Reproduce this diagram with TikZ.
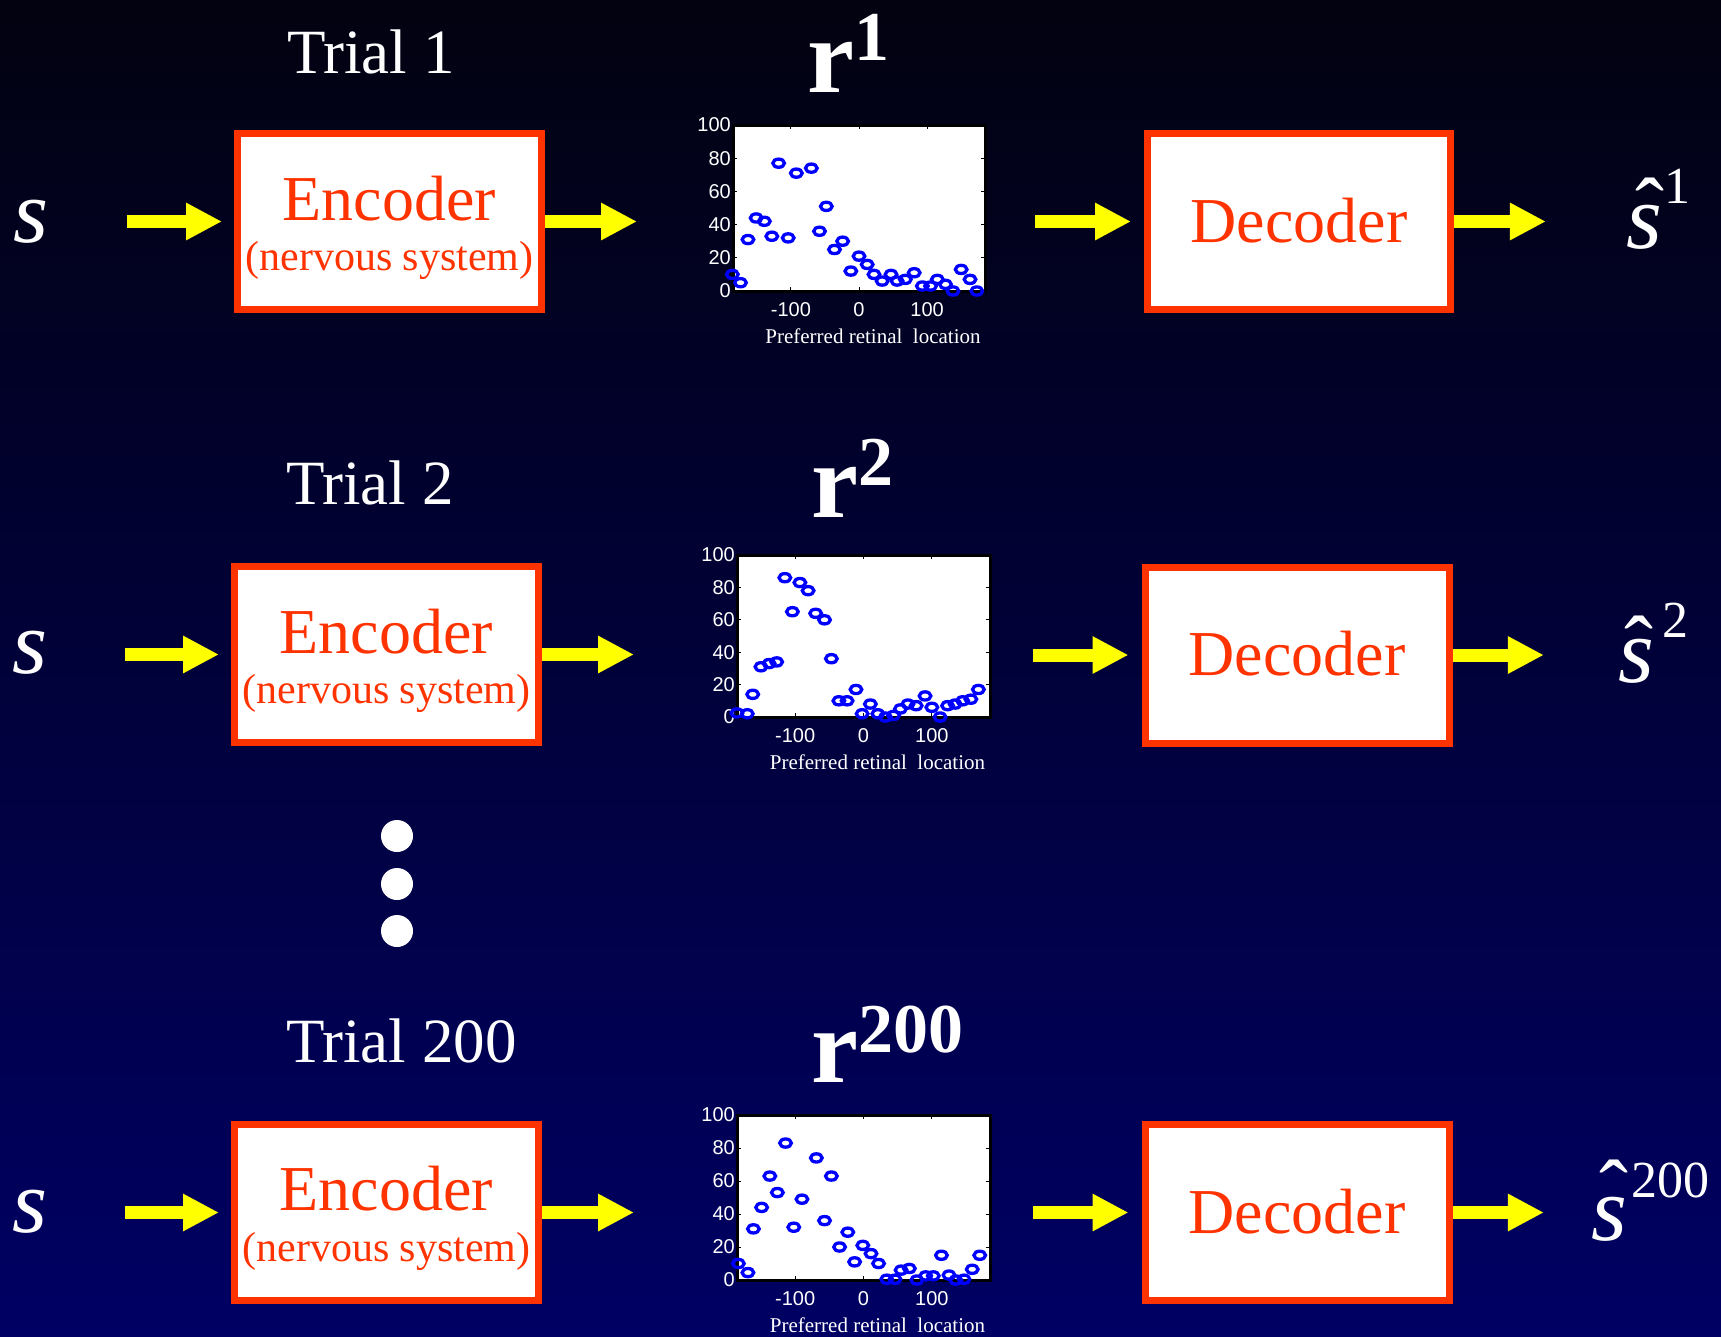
\documentclass[tikz,border=0pt]{standalone}
\usepackage{fontspec}
\setmainfont{Liberation Serif}
\newfontfamily\helv{Liberation Sans}
\usetikzlibrary{arrows.meta}
\definecolor{bgtop}{RGB}{2,2,16}
\definecolor{bgbot}{RGB}{0,0,100}
\definecolor{redor}{RGB}{255,51,0}
\definecolor{ylw}{RGB}{255,255,0}
\definecolor{mkblue}{RGB}{0,0,255}
\newcommand{\fsz}[1]{\fontsize{#1}{#1}\selectfont}
\tikzset{
  box/.style={draw=redor, fill=white, line width=7pt, minimum height=176pt, inner sep=0pt},
  enctxt/.style={anchor=base, font=\fsz{64}, text=redor, inner sep=0pt},
  nstxt/.style={anchor=base, font=\fsz{42}, text=redor, inner sep=0pt},
  trial/.style={anchor=base west, font=\fsz{63}, text=white, inner sep=0pt},
  rtit/.style={anchor=base west, font=\fsz{106}\bfseries, text=white, inner sep=0pt},
  ins/.style={anchor=base, font=\fsz{90}\itshape, text=white, inner sep=0pt},
  outs/.style={anchor=base, font=\fsz{92}\itshape, text=white, inner sep=0pt},
  hatn/.style={anchor=base, font=\fsz{87}, text=white, inner sep=0pt},
  osup/.style={anchor=base west, font=\fsz{52}, text=white, inner sep=0pt},
  yarrow/.style={draw=ylw, line width=13pt, -{Triangle[length=36pt, width=35pt]}},
  plotframe/.style={draw=black, fill=white, line width=3pt, outer sep=0pt, inner sep=0pt},
  tick/.style={draw=black, line width=1pt},
  ylab/.style={anchor=east, font=\helv\fsz{20}, text=white, inner sep=0pt},
  xlab/.style={anchor=center, font=\helv\fsz{20}, text=white, inner sep=0pt},
  xtitle/.style={anchor=base, font=\fsz{21}, text=white, inner sep=0pt},
  mk/.style={draw=mkblue, line width=3.3pt},
}
\newcommand{\plotpanel}[6]{%
  \node[plotframe, minimum width={(#4-#2)*1pt}, minimum height={(#5-#3)*1pt}] (#1) at ({(#2+#4)/2},{(#3+#5)/2}) {};
  \foreach \yv in {0,20,...,100} {
    \draw[tick] (#2,{#5-\yv/100*(#5-#3)}) -- ++(4,0);
    \draw[tick] (#4,{#5-\yv/100*(#5-#3)}) -- ++(-4,0);
    \node[ylab] (#1-y\yv) at ({#2-2},{#5-\yv/100*(#5-#3)}) {\yv};
  }
  \foreach \xv in {-100,0,100} {
    \draw[tick] ({#2+(\xv+185)/370*(#4-#2)},#5) -- ++(0,-4);
    \draw[tick] ({#2+(\xv+185)/370*(#4-#2)},#3) -- ++(0,4);
    \node[xlab] (#1-x\xv) at ({#2+(\xv+185)/370*(#4-#2)},{#5+19}) {\xv};
  }
  \node[xtitle] (#1-t) at ({#2/2+#4/2+14},{#5+52}) {Preferred retinal\ \ location};
  \foreach \px/\py in {#6} {
    \draw[mk] ({#2+(\px+185)/370*(#4-#2)},{#5-\py/100*(#5-#3)}) ellipse [x radius=5.8, y radius=4.1];
  }
}
\begin{document}
\begin{tikzpicture}[x=1pt, y=-1pt]
\useasboundingbox (0,0) rectangle (1721,1336);
\shade[top color=bgtop, bottom color=bgbot] (0,0) rectangle (1721,1336);

% ---------- Row 1 ----------
\node[trial] (t1) at (287,73) {Trial 1};
\node[rtit] (r1) at (807,92) {r\raisebox{32pt}{\fsz{70}1}};
\node[ins] (s1) at (31,242) {s};
\node[box, minimum width=304pt] (enc1) at (389.5,221.5) {};
\node[enctxt] (enc1a) at ([yshift=1.5pt]enc1.center) {Encoder};
\node[nstxt] (enc1b) at ([yshift=-48.5pt]enc1.center) {(nervous system)};
\plotpanel{p1}{733}{125}{985}{291}{-186/10, -174/5, -163/31, -151/44, -139/42, -128/33, -118/77, -104/32, -92/71, -70/74, -58/36, -48/51, -36/25, -24/30, -12/12, 0/21, 12/16, 22/10, 34/6, 47/10, 56/6, 68/7, 81/11, 93/3, 105/3, 115/7, 127/4, 138/0, 150/13, 163/7, 173/0}
\node[box, minimum width=303pt] (dec1) at (1299,221.5) {};
\node[enctxt] (dec1a) at ([yshift=-21pt]dec1.center) {Decoder};
\node[outs] (o1) at (1644,248) {s};
\node[hatn] (o1h) at (1650,238) {ˆ};
\node[osup] (o1s) at (1664,203) {1};
\draw[yarrow, shorten <=78pt, shorten >=12pt] (s1.east |- enc1.west) -- (enc1.west);
\draw[yarrow, shorten >=96pt] (enc1.east) -- (enc1.east -| p1.west);
\draw[yarrow, shorten <=50pt, shorten >=13pt] (p1.east |- dec1.west) -- (dec1.west);
\draw[yarrow, shorten >=80pt] (dec1.east) -- (dec1.east -| o1.west);

% ---------- Row 2 ----------
\node[trial] (t2) at (286,504) {Trial 2};
\node[rtit] (r2) at (811,517) {r\raisebox{32pt}{\fsz{70}2}};
\node[ins] (s2) at (30,673) {s};
\node[box, minimum width=304pt] (enc2) at (386.5,654.5) {};
\node[enctxt] (enc2a) at ([yshift=1.5pt]enc2.center) {Encoder};
\node[nstxt] (enc2b) at ([yshift=-48.5pt]enc2.center) {(nervous system)};
\plotpanel{p2}{737}{555}{990}{717}{-185/2.5, -170/2, -162/14, -150/31, -138/33, -127/34, -115/86, -104/65, -93/83, -81/78, -70/64, -57/60, -47/36, -36/10, -24/10, -11/17, -2/2, 10/8, 21/2, 32/0, 44/1, 54/5, 65/8, 77/7, 90/13, 100/6, 112/0, 123/7, 134/8, 145/10, 157/11, 168/17}
\node[box, minimum width=304pt] (dec2) at (1297,655) {};
\node[enctxt] (dec2a) at ([yshift=-20pt]dec2.center) {Decoder};
\node[outs] (o2) at (1636,682) {s};
\node[hatn] (o2h) at (1639,676) {ˆ};
\node[osup] (o2s) at (1662,637) {2};
\draw[yarrow, shorten <=77pt, shorten >=12pt] (s2.east |- enc2.west) -- (enc2.west);
\draw[yarrow, shorten >=103pt] (enc2.east) -- (enc2.east -| p2.west);
\draw[yarrow, shorten <=43pt, shorten >=13pt] (p2.east |- dec2.west) -- (dec2.west);
\draw[yarrow, shorten >=74pt] (dec2.east) -- (dec2.east -| o2.west);

% ---------- dots ----------
\fill[white] (397,836) circle (16);
\fill[white] (397,884) circle (16);
\fill[white] (397,931) circle (16);

% ---------- Row 3 ----------
\node[trial] (t3) at (286,1062) {Trial 200};
\node[rtit] (r3) at (811,1082) {r\raisebox{30pt}{\fsz{70}200}};
\node[ins] (s3) at (30,1232) {s};
\node[box, minimum width=304pt] (enc3) at (386.5,1212.5) {};
\node[enctxt] (enc3a) at ([yshift=2pt]enc3.center) {Encoder};
\node[nstxt] (enc3b) at ([yshift=-49pt]enc3.center) {(nervous system)};
\plotpanel{p3}{737}{1115}{990}{1280}{-183/10, -169/4.5, -161/31, -149/44, -137/63, -126/53, -114/83, -102/32, -90/49, -69/74, -57/36, -47/63, -35/20, -23/29, -13/11, -1/21, 11/16, 22/10, 34/0.5, 46/0.5, 55/6, 67/7, 78/0, 91/2.5, 102/2.5, 114/15, 125/3, 135/0, 147/0.5, 159/6.5, 170/15}
\node[box, minimum width=304pt] (dec3) at (1297,1212.5) {};
\node[enctxt] (dec3a) at ([yshift=-20.5pt]dec3.center) {Decoder};
\node[outs] (o3) at (1609,1240) {s};
\node[hatn] (o3h) at (1614,1220) {ˆ};
\node[osup] (o3s) at (1631,1197) {200};
\draw[yarrow, shorten <=77pt, shorten >=12pt] (s3.east |- enc3.west) -- (enc3.west);
\draw[yarrow, shorten >=103pt] (enc3.east) -- (enc3.east -| p3.west);
\draw[yarrow, shorten <=43pt, shorten >=13pt] (p3.east |- dec3.west) -- (dec3.west);
\draw[yarrow, shorten >=47pt] (dec3.east) -- (dec3.east -| o3.west);
\end{tikzpicture}
\end{document}
